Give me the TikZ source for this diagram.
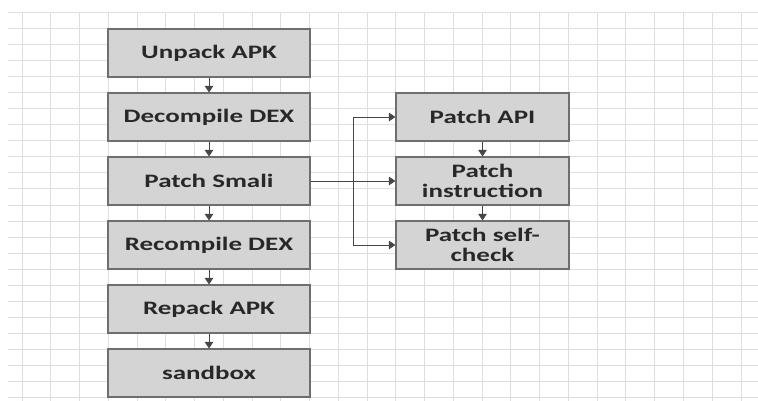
\documentclass[tikz,border=0pt]{standalone}
\usepackage{fontspec}
\usetikzlibrary{arrows.meta}
\newfontfamily\boxfont{Carlito}[FakeStretch=1.42]
\definecolor{gridc}{RGB}{222,222,222}
\definecolor{boxfill}{RGB}{212,212,212}
\definecolor{boxdraw}{RGB}{110,110,110}
\definecolor{arrc}{RGB}{70,70,70}
\definecolor{txt}{RGB}{40,40,40}
\tikzset{
  gridline/.style={draw=gridc, line width=1pt},
  stepbox/.style={draw=boxdraw, fill=boxfill, line width=1.2pt, minimum height=48pt, inner sep=0pt, align=center, text=txt, font=\boxfont\bfseries\fontsize{19}{20}\selectfont},
  leftbox/.style={stepbox, minimum width=202pt},
  rightbox/.style={stepbox, minimum width=173pt},
  arr/.style={draw=arrc, line width=0.9pt, -{Triangle[length=6.5pt,width=8.5pt]}},
  plainline/.style={draw=arrc, line width=0.9pt}
}
\begin{document}
\begin{tikzpicture}[x=1pt,y=-1pt]
\useasboundingbox (0,0) rectangle (758,401);
\fill[white] (0,0) rectangle (758,401);
% grid
\foreach \k in {0,...,24} {
  \draw[gridline] (8,{13+16*\k}) -- (758,{13+16*\k});
}
\foreach \k in {0,...,25} {
  \draw[gridline] ({22+28.76*\k},13) -- ({22+28.76*\k},401);
}
% left column
\node[leftbox] (unpack) at (209,53) {Unpack APK};
\node[leftbox] (decomp) at (209,117) {Decompile DEX};
\node[leftbox] (smali)  at (209,181) {Patch Smali};
\node[leftbox] (recomp) at (209,245) {Recompile DEX};
\node[leftbox] (repack) at (209,309) {Repack APK};
\node[leftbox] (sandbox) at (209,373) {sandbox};
% right column
\node[rightbox] (api)   at (482.5,117) {Patch API};
\node[rightbox] (instr) at (482.5,181) {Patch\\instruction};
\node[rightbox] (self)  at (482.5,245) {Patch self-\\check};
% vertical arrows
\draw[arr] (unpack.south) -- (decomp.north);
\draw[arr] (decomp.south) -- (smali.north);
\draw[arr] (smali.south) -- (recomp.north);
\draw[arr] (recomp.south) -- (repack.north);
\draw[arr] (repack.south) -- (sandbox.north);
\draw[arr] (api.south) -- (instr.north);
\draw[arr] (instr.south) -- (self.north);
% branching
\coordinate (j) at (353,181);
\draw[arr] (smali.east) -- (instr.west);
\draw[arr] (j) |- (api.west);
\draw[arr] (j) |- (self.west);
\end{tikzpicture}
\end{document}
